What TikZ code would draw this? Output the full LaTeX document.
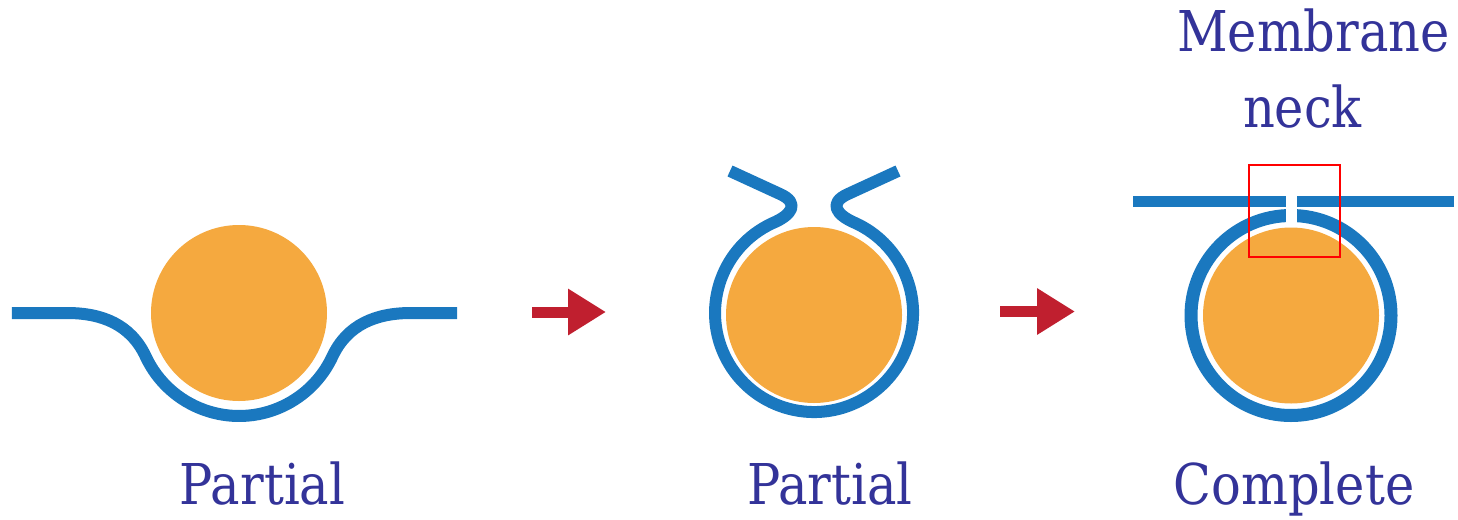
\documentclass[tikz,border=0pt]{standalone}
\usepackage{fontspec}
\setmainfont{DejaVu Serif}[FakeStretch=0.88]
\usetikzlibrary{arrows.meta}
\definecolor{MembraneBlue}{HTML}{1A78BF}
\definecolor{CargoOrange}{HTML}{F5A93F}
\definecolor{StepRed}{HTML}{C01F2F}
\definecolor{LabelBlue}{HTML}{333399}
\definecolor{NeckRed}{HTML}{FF0000}

\tikzset{
  membrane/.style={MembraneBlue,line width=0.12cm,line join=round},
  cargo/.style={fill=CargoOrange},
  stagearrow/.style={StepRed,line width=0.11cm,-{Triangle[length=0.38cm,width=0.44cm]}},
  caption/.style={text=LabelBlue,anchor=base,inner sep=0pt,font=\rmfamily\fontsize{16}{19}\selectfont},
}

\begin{document}
\begin{tikzpicture}
  \useasboundingbox (0,0) rectangle (14.58,5.19);
  % stage one: the membrane bends round the particle
  \fill[cargo] (2.39,2.06) circle (0.88);
  \draw[membrane] (0.12,2.06) -- (0.67,2.06) to[out=0,in=115] (1.457,1.625)
    arc[start angle=205,end angle=335,radius=1.03] to[out=65,in=180] (4.11,2.06) -- (4.57,2.06);
  % stage two: wrapped almost all round, neck still open
  \fill[cargo] (8.14,2.04) circle (0.88);
  \draw[membrane] (7.30,3.48) -- (7.80,3.25) .. controls (8.00,3.16) and (7.92,3.04) .. (7.722,2.957)
    arc[start angle=115,end angle=425,radius=0.99]
    .. controls (8.36,3.04) and (8.28,3.16) .. (8.48,3.25) -- (8.98,3.48);
  % stage three: closed vesicle under the flat membrane
  \draw[membrane,line width=0.13cm] (12.91,2.035) circle (1.0);
  \draw[membrane,line width=0.11cm] (11.33,3.175) -- (14.54,3.175);
  \fill[white] (12.86,2.9) rectangle (12.97,3.25);
  \fill[cargo] (12.91,2.035) circle (0.88);
  \draw[NeckRed,line width=0.015cm] (12.49,2.62) rectangle (13.40,3.54);

  % arrows between stages
  \coordinate (s1) at (5.32,2.07);
  \coordinate (e1) at (6.06,2.07);
  \coordinate (s2) at (10.00,2.075);
  \coordinate (e2) at (10.75,2.075);
  \draw[stagearrow] (s1) -- (e1);
  \draw[stagearrow] (s2) -- (e2);

  \node[caption] (partA) at (2.625,0.15) {Partial};
  \node[caption] (partB) at (8.30,0.15) {Partial};
  \node[caption] (done) at (12.94,0.15) {Complete};
  \node[caption] (neckA) at (13.135,4.67) {Membrane};
  \node[caption] (neckB) at (13.025,3.92) {neck};
\end{tikzpicture}
\end{document}
